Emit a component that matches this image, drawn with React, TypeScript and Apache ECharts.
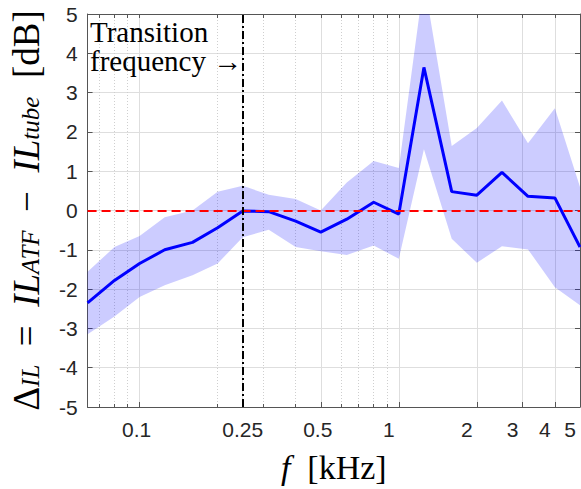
import React, { useEffect, useRef } from 'react';
import * as echarts from 'echarts';

// one-third octave band centre frequencies [kHz]
const freqs = [0.063, 0.08, 0.1, 0.125, 0.16, 0.2, 0.25, 0.315, 0.4, 0.5, 0.63, 0.8, 1.0, 1.25, 1.6, 2.0, 2.5, 3.15, 4.0, 5.0];
// mean difference [dB]
const meanDiff = [-2.35, -1.78, -1.35, -1.0, -0.81, -0.44, -0.01, -0.03, -0.27, -0.55, -0.22, 0.21, -0.09, 3.64, 0.48, 0.39, 0.97, 0.36, 0.32, -0.93];
// band limits [dB]
const upperBand = [-1.56, -0.93, -0.65, -0.17, 0.0, 0.48, 0.63, 0.4, 0.29, 0.0, 0.71, 1.26, 1.08, 5.85, 1.64, 2.1, 2.8, 1.71, 2.6, 0.6];
const lowerBand = [-3.15, -2.7, -2.2, -1.9, -1.65, -1.35, -0.68, -0.49, -0.93, -1.04, -1.13, -0.89, -1.23, 1.56, -0.72, -1.33, -0.91, -0.99, -1.95, -2.41];

const majorTicks = [0.1, 0.25, 0.5, 1, 2, 3, 4, 5];
const minorTicks = [0.07, 0.08, 0.09, 0.2, 0.3, 0.4, 0.6, 0.7, 0.8, 0.9];
const allTicks = [...minorTicks, ...majorTicks];
const xMin = 0.063;
const xMax = 5;
const yMin = -5;
const yMax = 5;
const yStep = 1;
const transitionFreq = 0.25;
const refLevel = 0;

const axisColor = '#555555';
const textColor = '#262626';
const gridColor = '#dedede';
const serif = "'Liberation Serif', 'DejaVu Serif', serif";
const sans = "'Liberation Sans', Arial, Helvetica, sans-serif";

export default function App() {
  const ref = useRef<HTMLDivElement>(null);

  useEffect(() => {
    if (!ref.current) return;
    const chart = echarts.init(ref.current, null, { renderer: 'svg' });

    const labelRich = {
      a: { fontFamily: sans, fontSize: 21, color: textColor, padding: [0, 20, 0, 0] },
      b: { fontFamily: sans, fontSize: 21, color: textColor, padding: [0, 6, 0, 0] },
      c: { fontFamily: sans, fontSize: 21, color: textColor },
    };
    const xLabelFormatter = (v: number) => {
      const s = String(Math.round(v * 1000) / 1000);
      if (v >= 0.99) return `{a|${s}}`;
      if (Math.abs(v - 0.25) < 1e-6) return `{c|${s}}`;
      return `{b|${s}}`;
    };

    const baseX = {
      type: 'log' as const,
      logBase: 10,
      min: xMin,
      max: xMax,
      gridIndex: 0,
    };

    const bandData = freqs.map((f, i) => [f, lowerBand[i], upperBand[i]]);

    const noteStyle = {
      fontFamily: serif,
      fontSize: 29,
      lineHeight: 29,
      fill: '#000000',
    };

    const option: any = {
      animation: false,
      backgroundColor: '#ffffff',
      grid: { left: 87, right: 1, top: 14, bottom: 80, containLabel: false },
      graphic: [
        {
          type: 'text',
          left: 90,
          top: 17,
          z: 100,
          style: { ...noteStyle, text: 'Transition' },
        },
        {
          type: 'text',
          left: 90,
          top: 46,
          z: 100,
          style: { ...noteStyle, text: 'frequency \u2192' },
        },
      ],
      xAxis: [
        {
          ...baseX,
          position: 'bottom',
          axisLine: { show: true, onZero: false, lineStyle: { color: axisColor, width: 1 } },
          axisTick: { show: true, inside: true, length: 5, customValues: majorTicks, lineStyle: { color: axisColor } },
          minorTick: { show: false },
          axisLabel: {
            show: true,
            customValues: majorTicks,
            margin: 12,
            fontFamily: sans,
            fontSize: 21,
            color: textColor,
            formatter: xLabelFormatter,
            rich: labelRich,
          },
          splitLine: { show: true, lineStyle: { color: gridColor, width: 1 } },
          name: '{fi|f}{mu|  [kHz]}',
          nameLocation: 'middle',
          nameGap: 43,
          nameTextStyle: {
            rich: {
              fi: { fontFamily: serif, fontSize: 34, fontStyle: 'italic', color: '#000' },
              mu: { fontFamily: serif, fontSize: 34, color: '#000' },
            },
          },
        },
        {
          ...baseX,
          position: 'bottom',
          axisLine: { show: false, onZero: false },
          axisTick: { show: true, inside: true, length: 3, customValues: minorTicks, lineStyle: { color: axisColor } },
          axisLabel: { show: false },
          splitLine: { show: true, lineStyle: { color: '#cfcfcf', width: 1, type: [1, 2] } },
        },
        {
          ...baseX,
          position: 'top',
          axisLine: { show: true, onZero: false, lineStyle: { color: axisColor, width: 1 } },
          axisTick: { show: true, inside: true, length: 4, customValues: allTicks, lineStyle: { color: axisColor } },
          axisLabel: { show: false },
          splitLine: { show: false },
        },
      ],
      yAxis: [
        {
          type: 'value',
          min: yMin,
          max: yMax,
          interval: yStep,
          position: 'left',
          axisLine: { show: true, onZero: false, lineStyle: { color: axisColor, width: 1 } },
          axisTick: { show: true, inside: true, length: 5, lineStyle: { color: axisColor } },
          axisLabel: { show: true, margin: 10, fontFamily: sans, fontSize: 21, color: textColor },
          splitLine: { show: true, lineStyle: { color: gridColor, width: 1 } },
          name: '{mu|\u0394}{s|IL}{mu|  =  }{mi|IL}{s|ATF}{mu|  \u2212  }{mi|IL}{s|tube}{mu|  [dB]}',
          nameLocation: 'middle',
          nameRotate: 90,
          nameGap: 42,
          nameTextStyle: {
            rich: {
              mu: { fontFamily: serif, fontSize: 37, lineHeight: 35, padding: [0, 0, 3, 0], verticalAlign: 'top', color: '#000' },
              mi: { fontFamily: serif, fontSize: 37, lineHeight: 35, padding: [0, 0, 3, 0], verticalAlign: 'top', fontStyle: 'italic', color: '#000' },
              s: { fontFamily: serif, fontSize: 25, lineHeight: 24, verticalAlign: 'bottom', fontStyle: 'italic', color: '#000' },
            },
          },
        },
        {
          type: 'value',
          min: yMin,
          max: yMax,
          interval: yStep,
          position: 'right',
          axisLine: { show: true, onZero: false, lineStyle: { color: axisColor, width: 1 } },
          axisTick: { show: true, inside: true, length: 5, lineStyle: { color: axisColor } },
          axisLabel: { show: false },
          splitLine: { show: false },
        },
      ],
      series: [
        {
          name: 'band',
          type: 'custom',
          xAxisIndex: 0,
          yAxisIndex: 0,
          clip: true,
          silent: true,
          z: 1,
          encode: { x: 0, y: [1, 2] },
          data: bandData,
          renderItem: (params: any, api: any) => {
            if (params.dataIndex !== 0) return null;
            const top = bandData.map((d) => api.coord([d[0], d[2]]));
            const bottom = bandData.map((d) => api.coord([d[0], d[1]])).reverse();
            return {
              type: 'polygon',
              shape: { points: [...top, ...bottom] },
              style: { fill: 'rgba(0,0,255,0.2)', stroke: 'none' },
            };
          },
        },
        {
          name: 'mean',
          type: 'line',
          xAxisIndex: 0,
          yAxisIndex: 0,
          symbol: 'none',
          lineStyle: { color: '#0000ff', width: 3 },
          data: freqs.map((f, i) => [f, meanDiff[i]]),
          z: 3,
        },
        {
          name: 'refs',
          type: 'line',
          xAxisIndex: 0,
          yAxisIndex: 0,
          data: [],
          z: 4,
          markLine: {
            silent: true,
            symbol: 'none',
            label: { show: false },
            animation: false,
            data: [
              { yAxis: refLevel, lineStyle: { color: '#ff0000', width: 2, type: [9, 5] } },
              { xAxis: transitionFreq, lineStyle: { color: '#000000', width: 2, type: [8, 3, 2, 3] } },
            ],
          },
        },
      ],
    };

    chart.setOption(option);
    return () => chart.dispose();
  }, []);

  return <div ref={ref} style={{ position: 'absolute', left: 0, top: 0, width: 581, height: 489 }} />;
}
